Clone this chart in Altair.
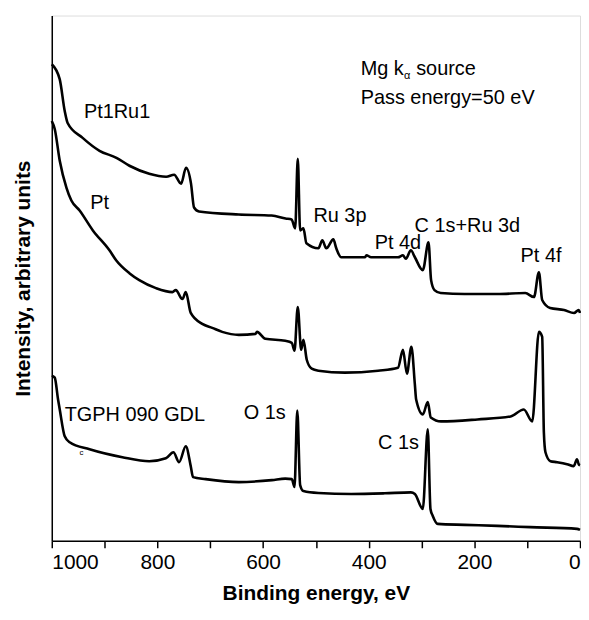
import altair as alt
import pandas as pd

# Binding energy (eV) and intensity (arbitrary units)
pt1ru1_E = [1000, 985, 975.5, 970, 941.6, 909.6, 877.6, 853, 815.5, 783.4, 768.4, 755.2, 745.8, 736.4,
            730.7, 721.3, 646, 583.8, 557.4, 546, 539.2, 534.3, 529.8, 523.6, 517.9, 495.3, 487.8,
            480.3, 467, 461.4, 452, 406.8, 404.4, 395.5, 344.6, 335.2, 329.6, 320.2, 312.6, 297.6,
            286.8, 281.9, 275.5, 263.7, 218.5, 156.3, 103.6, 87.2, 77.8, 71.6, 56.5, 30.2, 11.3, 2.5, 0]
pt1ru1_I = [479, 464, 432, 420, 405, 392, 385, 377, 369, 366, 368, 359, 375, 359,
            335, 331, 328, 327, 324, 323, 314, 384, 312, 314, 299, 294, 302,
            294, 303, 294, 285, 285, 287, 285, 285, 287, 283.5, 292, 285, 272,
            300, 262, 252, 249, 248, 248, 249, 245, 270, 242, 234, 232, 229, 232, 229]

pt_E = [1000, 994.4, 984.9, 972.3, 962.9, 947.3, 922.2, 890.8, 878.2, 853.1, 834.3, 802.8, 771.6,
        765.2, 752.7, 746.3, 736.9, 715.1, 696.2, 677.4, 645.9, 614.5, 611.5, 595.7, 558, 545.6,
        540.5, 534.3, 527.9, 523.6, 517.3, 507.9, 495.3, 445.1, 382.3, 344.6, 335.2, 327.7, 319.2,
        312.6, 310.2, 297.6, 288.2, 282.5, 263.1, 194, 131.3, 106.4, 90.4, 77.8, 71.6, 68.4, 65.4,
        56, 43.3, 24.5, 11.9, 5.7, 2.5, 0]
pt_I = [422, 414, 382, 355, 342, 332, 312, 292, 282, 269, 262, 254, 250,
        252, 243, 250, 229, 218, 214, 210, 207, 208, 210, 203, 201, 199,
        191, 235, 192, 202, 182, 173, 171, 169, 171, 174, 192, 168, 195,
        157, 142, 127, 139.5, 124, 120, 122, 125, 132, 120, 210, 205, 109, 89,
        80, 79, 77, 75, 82, 77, 76]

gdl_E = [1000, 994.4, 988.1, 984.9, 975.5, 966.1, 928.4, 866.3, 815.5, 784, 769.7, 759, 746.3,
         736.9, 732.6, 708.7, 645.9, 583.2, 558, 545.6, 540.5, 535.2, 529.8, 523.6, 495.3, 433.2,
         369.7, 320.2, 312.6, 297.6, 288.2, 283.1, 278.7, 269.3, 218.5, 156.3, 94.2, 5.7, 0]
gdl_I = [166, 164, 142, 132, 105, 99, 92, 84, 80, 83, 89, 79, 95,
         75, 64, 62, 59, 61, 62.5, 62, 54, 131, 56, 50, 48, 47,
         47.7, 48.7, 47, 32, 112, 32, 25, 17, 16, 15, 13.7, 12, 11]

series_names = ["Pt1Ru1", "Pt", "TGPH 090 GDL"]

label_text = ["Pt1Ru1", "Pt", "TGPH 090 GDL", "O 1s", "C 1s", "Ru 3p", "Pt 4d", "C 1s+Ru 3d",
              "Pt 4f", "Mg k", "source", "Pass energy=50 eV"]
label_E = [939.2, 927.1, 975.5, 636.5, 382.3, 504.7, 388.6, 313.2, 112.5, 415.3, 310.2, 415.3]
label_I = [425, 333.7, 120.3, 122.7, 92, 320.3, 293.7, 310.3, 280.3, 468.7, 468.7, 438.7]

small_text = ["\u03b1", "c"]
small_E = [333.3, 947.3]
small_I = [464.7, 86]
small_size = [11, 8]

rows = []
for name, E, I in zip(series_names, [pt1ru1_E, pt_E, gdl_E], [pt1ru1_I, pt_I, gdl_I]):
    for e, i in zip(E, I):
        rows.append({"series": name, "E": e, "I": i})
df = pd.DataFrame(rows)

labels = pd.DataFrame({"text": label_text, "E": label_E, "I": label_I})
smalls = pd.DataFrame({"text": small_text, "E": small_E, "I": small_I, "size": small_size})

FONT = "Liberation Sans"

xscale = alt.Scale(domain=[0, 1000], reverse=True, nice=False)
yscale = alt.Scale(domain=[0, 528], nice=False)

lines = alt.Chart(df).mark_line(color="black", strokeWidth=2.6, strokeJoin="round",
                                interpolate="monotone").encode(
    x=alt.X("E:Q", scale=xscale,
            axis=alt.Axis(title="Binding energy, eV", values=list(range(0, 1001, 100)),
                          labelExpr="datum.value % 200 === 0 ? datum.value : ''",
                          grid=False, tickSize=7, tickColor="black", tickWidth=1.5,
                          domainColor="black", domainWidth=1.5,
                          labelFont=FONT, labelFontSize=21, labelColor="black", labelPadding=4,
                          titleFont=FONT, titleFontSize=21, titleFontWeight="bold",
                          titleColor="black", titlePadding=10)),
    y=alt.Y("I:Q", scale=yscale,
            axis=alt.Axis(title="Intensity, arbitrary units", labels=False, ticks=False,
                          grid=False, domainColor="black", domainWidth=1.5,
                          titleFont=FONT, titleFontSize=21, titleFontWeight="bold",
                          titleColor="black", titlePadding=18)),
    detail="series:N",
    order=alt.Order("E:Q", sort="descending"),
)

texts = alt.Chart(labels).mark_text(font=FONT, fontSize=20, align="left", baseline="alphabetic",
                                    color="black").encode(
    x=alt.X("E:Q", scale=xscale), y=alt.Y("I:Q", scale=yscale), text="text:N")

small = alt.Chart(smalls).mark_text(font=FONT, align="left", baseline="alphabetic",
                                    color="black").encode(
    x=alt.X("E:Q", scale=xscale), y=alt.Y("I:Q", scale=yscale), text="text:N",
    size=alt.Size("size:Q", scale=None))

chart = alt.layer(lines, texts, small).properties(
    width=531, height=528,
    autosize=alt.AutoSizeParams(type="none"),
    padding={"left": 44, "top": 6, "right": 1, "bottom": 66},
).configure_view(stroke="black", strokeWidth=1.5).configure(background="white")

chart.save("out.html", embed_options={"renderer": "svg", "actions": False})
